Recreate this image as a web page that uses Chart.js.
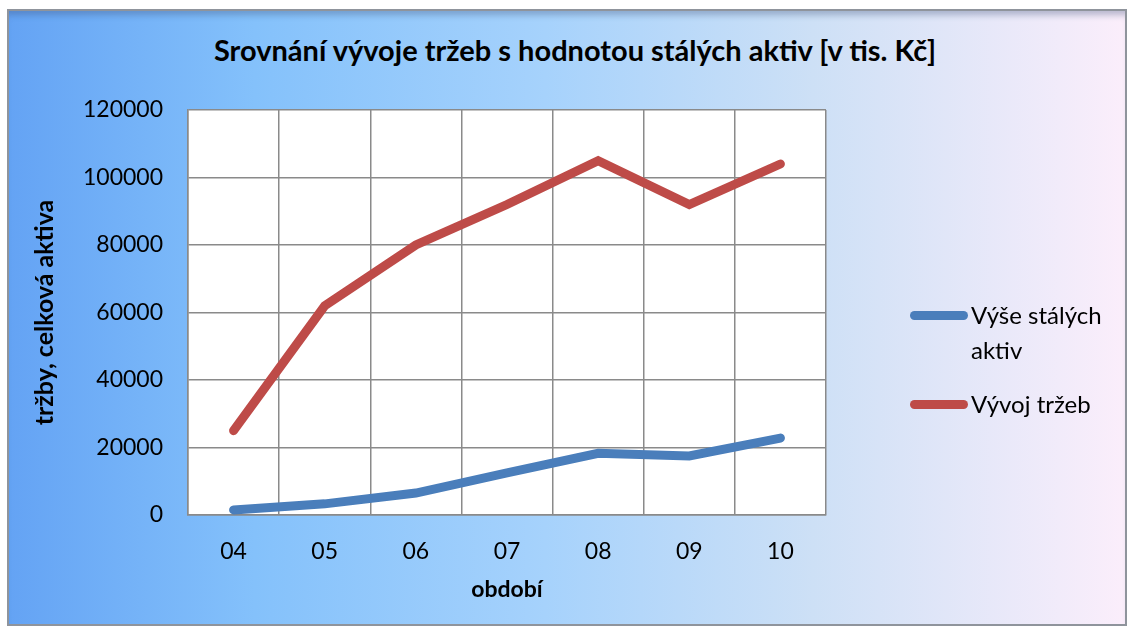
<!DOCTYPE html>
<html>
<head>
<meta charset="utf-8">
<script src="https://cdn.jsdelivr.net/npm/chart.js@4/dist/chart.umd.min.js"></script>
<style>
  html, body { margin: 0; padding: 0; background: #fff; }
  #wrap { position: relative; width: 1130px; height: 628px; overflow: hidden; font-family: Lato, "Open Sans", sans-serif; }
  #frame {
    position: absolute; left: 7px; top: 9px; width: 1116px; height: 613px;
    border: 2px solid #8f949c;
    background: linear-gradient(90deg, #64a3f4 0%, #84c1fb 22%, #a6d2fc 48%, #cde0f6 72%, #fbeefb 100%);
    box-shadow: inset 0 8px 6px -4px rgba(60, 80, 120, 0.35);
  }
  #title {
    position: absolute; left: 0; width: 1150px; top: 32px; text-align: center;
    font-weight: bold; font-size: 29px; color: #000;
  }
  #chart { position: absolute; left: 0; top: 0; }
  #legend { position: absolute; left: 910px; top: 300px; font-size: 24px; color: #000; }
  .item { display: flex; align-items: flex-start; margin-bottom: 22px; }
  .swatch { width: 58px; height: 9px; border-radius: 5px; margin-top: 11px; margin-right: 3px; flex: none; }
  .lbl { width: 150px; line-height: 35px; margin-top: -3px; }
</style>
</head>
<body>
<div id="wrap">
  <div id="frame"></div>
  <div id="title">Srovnání vývoje tržeb s hodnotou stálých aktiv [v tis. Kč]</div>
  <canvas id="chart" width="1130" height="628"></canvas>
  <div id="legend"></div>
</div>
<script>
const categories = ["04", "05", "06", "07", "08", "09", "10"];
const stalaAktiva = [1500, 3300, 6500, 12500, 18300, 17500, 22800];
const trzby = [25000, 62000, 80000, 92000, 105000, 92000, 104000];
const seriesNames = ["Výše stálých aktiv", "Vývoj tržeb"];
const seriesColors = ["#4a7ebb", "#be4b48"];
const yTicks = [0, 20000, 40000, 60000, 80000, 100000, 120000];

const gridColor = "#8a8a8a";

// white plot area like the original
const plotBg = {
    id: "plotBg",
    beforeDraw(chart) {
        const a = chart.chartArea;
        const ctx = chart.ctx;
        ctx.save();
        ctx.fillStyle = "#ffffff";
        ctx.fillRect(a.left, a.top, a.right - a.left, a.bottom - a.top);
        ctx.restore();
    }
};

const chart = new Chart(document.getElementById("chart"), {
    type: "line",
    data: {
        labels: categories,
        datasets: [
            { label: seriesNames[0], data: stalaAktiva, borderColor: seriesColors[0] },
            { label: seriesNames[1], data: trzby, borderColor: seriesColors[1] }
        ].map(d => Object.assign(d, {
            borderWidth: 9,
            pointRadius: 0,
            tension: 0,
            borderCapStyle: "round",
            borderJoinStyle: "miter",
            fill: false
        }))
    },
    options: {
        responsive: false,
        animation: false,
        layout: { padding: { left: 28, right: 304, top: 110, bottom: 23 } },
        plugins: {
            legend: { display: false },
            tooltip: { enabled: false }
        },
        scales: {
            x: {
                offset: true,
                grid: { offset: true, color: gridColor, lineWidth: 1.5, drawTicks: false },
                border: { color: gridColor, width: 1.5 },
                ticks: { color: "#000", padding: 23, font: { family: "Lato", size: 23 } },
                title: {
                    display: true, text: "období", color: "#000",
                    font: { family: "Lato", size: 23, weight: "bold" },
                    padding: { top: 4, bottom: 2 }
                },
                afterFit: s => { s.height = 90; }
            },
            y: {
                min: 0, max: 120000,
                afterBuildTicks: s => { s.ticks = yTicks.map(v => ({ value: v })); },
                grid: { color: gridColor, lineWidth: 1.5, drawTicks: false },
                border: { color: gridColor, width: 1.5 },
                ticks: { color: "#000", padding: 25, font: { family: "Lato", size: 23 }, callback: v => String(v) },
                title: {
                    display: true, text: "tržby, celková aktiva", color: "#000",
                    font: { family: "Lato", size: 25, weight: "bold" },
                    padding: { top: 2, bottom: 4 }
                },
                afterFit: s => { s.width = 160; }
            }
        }
    },
    plugins: [plotBg]
});

// legend built from the datasets
const legend = document.getElementById("legend");
chart.data.datasets.forEach(ds => {
    const item = document.createElement("div");
    item.className = "item";
    const sw = document.createElement("div");
    sw.className = "swatch";
    sw.style.background = ds.borderColor;
    const lbl = document.createElement("div");
    lbl.className = "lbl";
    lbl.textContent = ds.label;
    item.appendChild(sw);
    item.appendChild(lbl);
    legend.appendChild(item);
});
</script>
</body>
</html>
